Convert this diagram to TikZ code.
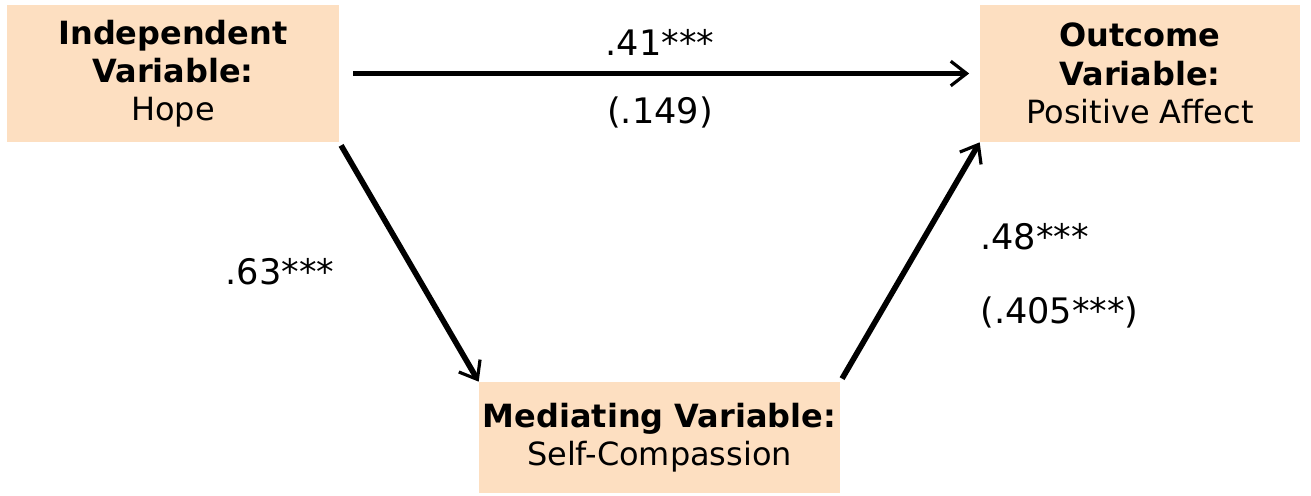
\documentclass[tikz,border=0pt]{standalone}
\usepackage{fontspec}
\setmainfont{DejaVu Sans}
\usetikzlibrary{arrows.meta}
\definecolor{peach}{RGB}{253,223,193}

\begin{document}
\begin{tikzpicture}[x=0.02cm,y=-0.02cm,
  varbox/.style={fill=peach,align=center,inner sep=0pt,
    font=\fontsize{18.2}{21.8}\selectfont},
  path/.style={line width=3.2pt,-{Straight Barb[length=9pt,width=14pt,line width=1.8pt]}},
  coef/.style={font=\fontsize{20}{24}\selectfont,inner sep=0pt}]
\useasboundingbox (0,0) rectangle (1311,495);
% the three variables
\node[varbox,minimum width=6.64cm,minimum height=2.74cm] (indep) at (173,73.5)
  {\textbf{Independent}\\\textbf{Variable:}\\Hope};
\node[varbox,minimum width=6.4cm,minimum height=2.74cm] (outcome) at (1140,73.5)
  {\textbf{Outcome}\\\textbf{Variable:}\\Positive Affect};
\node[varbox,minimum width=7.22cm,minimum height=2.22cm] (mediator) at (659.5,437.5)
  {\textbf{Mediating Variable:}\\Self-Compassion};
% paths
\draw[path,shorten <=8pt,shorten >=6pt] (indep.east) -- (outcome.west);
\draw[path,shorten <=2pt] (indep.south east) -- (mediator.north west);
\draw[path,shorten <=2pt] (mediator.north east) -- (outcome.south west);
% coefficients
\node[coef] (c41) at (660,42) {.41***};
\node[coef] (c149) at (660,112) {(.149)};
\node[coef] (c63) at (280,272) {.63***};
\node[coef,anchor=west] (c48) at (980,237) {.48***};
\node[coef,anchor=west] (c405) at (980,312) {(.405***)};
\end{tikzpicture}
\end{document}
